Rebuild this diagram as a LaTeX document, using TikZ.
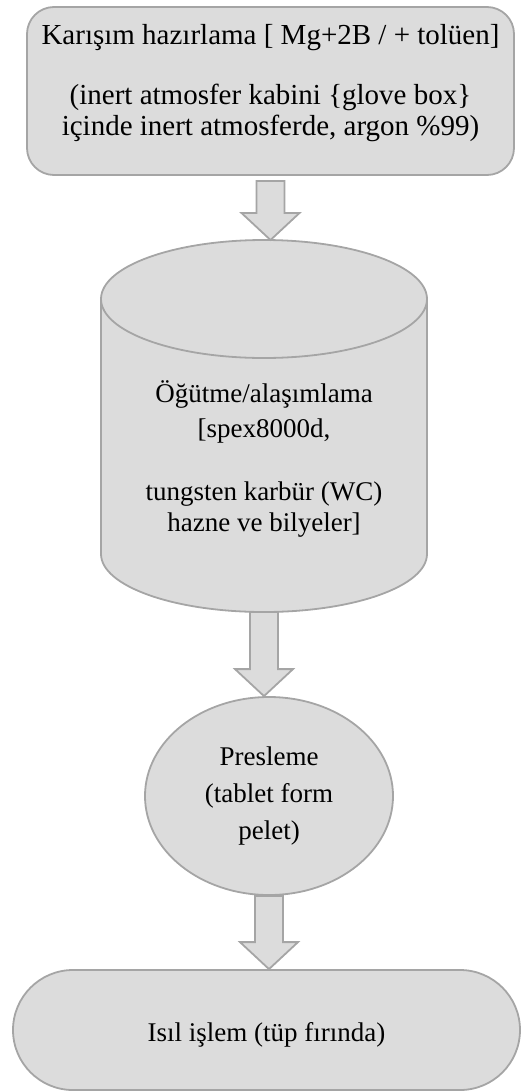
\documentclass[tikz,border=0pt]{standalone}
\usepackage{fontspec}
\setmainfont{Liberation Serif}
\usetikzlibrary{shapes.geometric, calc}
\definecolor{boxgray}{HTML}{DCDCDC}
\definecolor{edgegray}{HTML}{A5A5A5}
\tikzset{
    flow/.style={draw=edgegray, fill=boxgray, line width=1.8pt},
    txt/.style={align=center, font=\fontsize{27}{31}\selectfont, inner sep=0pt},
    fatarrow/.style={flow, to path={let \p1=(\tikztostart), \p2=(\tikztotarget) in
        (\x1-14pt,\y1) -- (\x1+14pt,\y1) -- (\x1+14pt,\y2+27pt) -- (\x1+29pt,\y2+27pt)
        -- (\x1,\y2) -- (\x1-29pt,\y2+27pt) -- (\x1-14pt,\y2+27pt) -- cycle}}
}

\begin{document}
\begin{tikzpicture}[x=1pt, y=1pt]
    \useasboundingbox (0,0) rectangle (522,-1092);
    % preparation box
    \node[flow, rectangle, rounded corners=27pt, minimum width=487pt, minimum height=168pt] (mix) at (270.5,-91) {};
    \node[txt, font=\fontsize{29}{31}\selectfont] (mixtext) at (270.5,-83) {Karışım hazırlama [ Mg+2B / + tolüen]\\[29pt]
        (inert atmosfer kabini \{glove box\}\\ içinde inert atmosferde, argon \%99)};
    % milling cylinder
    \draw[flow] (101,-299) -- (101,-554) arc[start angle=180, end angle=360, x radius=163pt, y radius=58pt]
        -- (427,-299) arc[start angle=0, end angle=180, x radius=163pt, y radius=59pt] -- cycle;
    \draw[flow, fill=none] (101,-299) arc[start angle=180, end angle=360, x radius=163pt, y radius=59pt];
    \coordinate (cyltop) at (264,-240);
    \coordinate (cylbot) at (264,-612);
    \node[txt] (mill) at (264,-459) {Öğütme/alaşımlama\\[4pt] {[}spex8000d,\\[32pt]
        tungsten karbür (WC)\\ hazne ve bilyeler]};
    % pressing and heat treatment
    \node[flow, ellipse, txt, minimum width=248pt, minimum height=198pt] (press) at (269,-796)
        {Presleme\\[6pt] (tablet form\\[6pt] pelet)};
    \node[flow, txt, rectangle, rounded corners=60pt, minimum width=507pt, minimum height=120pt,
        text height=29pt] (heat) at (266.5,-1030) {Isıl işlem (tüp fırında)};
    % arrows
    \draw[fatarrow] ([yshift=-5pt]mix.south) to (cyltop);
    \draw[fatarrow] (cylbot) to (press.north);
    \draw[fatarrow] (press.south) to (heat.north);
\end{tikzpicture}
\end{document}
